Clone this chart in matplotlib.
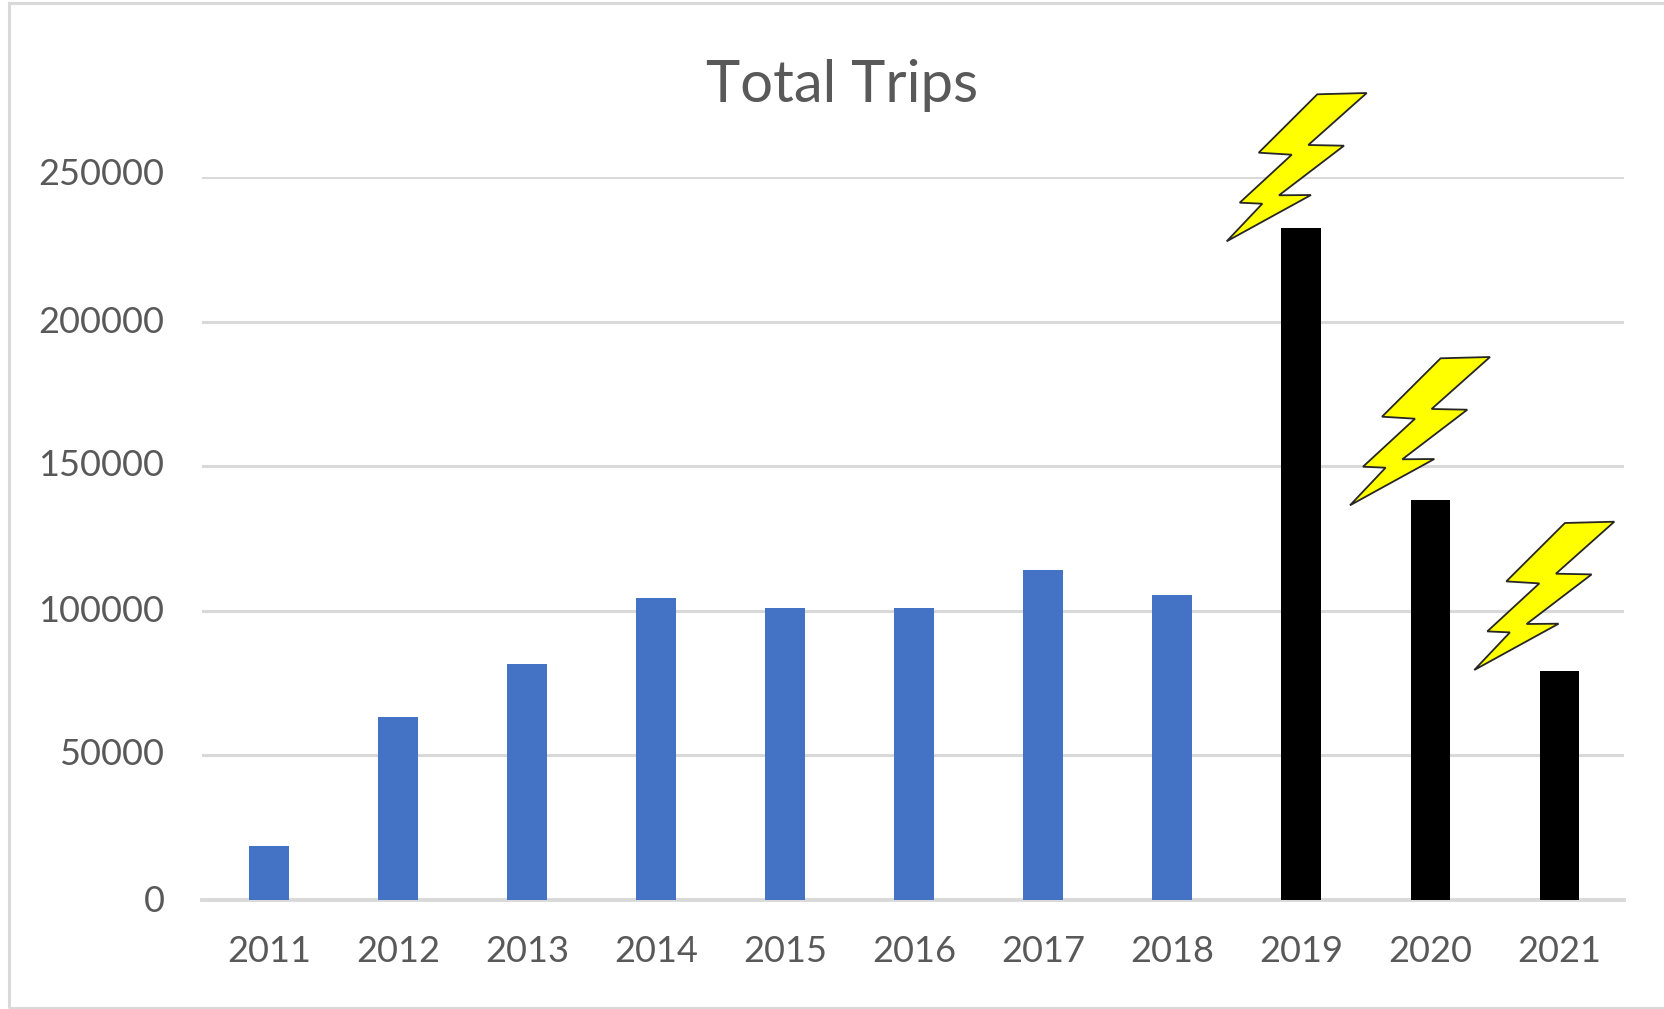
"""Total Trips per year, with lightning bolts over the last three years."""

import matplotlib
matplotlib.use("Agg")
import matplotlib.pyplot as plt
from matplotlib.patches import Polygon, Rectangle
from matplotlib.transforms import ScaledTranslation

matplotlib.rcParams.update({
    "font.family": ["Lato", "DejaVu Sans"],
})

YEARS = ["2011", "2012", "2013", "2014", "2015", "2016", "2017", "2018", "2019", "2020", "2021"]
TRIPS = [18700, 63300, 81600, 104400, 101000, 101000, 114100, 105500, 232400, 138300, 79200]
BAR_COLORS = ["#4472C4"] * 8 + ["#000000"] * 3
Y_TICKS = [0, 50000, 100000, 150000, 200000, 250000]
# labels do not sit quite level with their gridlines (pixels up)
Y_LABEL_NUDGE = [2, 4, 2, 4, 2, 5]

# bolt outline in pixels of the picture, and where the copies sit
BOLT_X = [1317.3, 1366.7, 1308.3, 1344, 1279, 1311, 1226.7, 1262.3, 1239.7, 1291.7, 1258.7]
BOLT_Y = [94.3, 93, 145, 145.7, 195.3, 195, 241.3, 203.7, 202.7, 154.7, 152.7]
BOLT_OFFSETS = [(0, 0), (123.3, 264), (247.6, 428.7)]

W, H = 1665, 1009
TEXT = "#595959"
GRID = "#D9D9D9"

fig = plt.figure(figsize=(W / 100, H / 100), dpi=100, facecolor="white")
ax = fig.add_axes([202 / W, 1 - 900 / H, (1624 - 202) / W, (900 - 177) / H])

x = range(len(YEARS))
ax.bar(x, TRIPS, width=0.31, color=BAR_COLORS, zorder=3)

ax.set_xlim(-0.523, 10.5)
ax.set_ylim(0, 250000)
ax.set_xticks(list(x), YEARS)
ax.set_yticks(Y_TICKS, [str(v) for v in Y_TICKS])
ax.tick_params(length=0, labelsize=26, labelcolor=TEXT)
ax.tick_params(axis="x", pad=25.5)
ax.tick_params(axis="y", pad=27)

for label, nudge in zip(ax.get_yticklabels(), Y_LABEL_NUDGE):
    label.set_transform(label.get_transform() + ScaledTranslation(0, nudge / 100, fig.dpi_scale_trans))

ax.yaxis.grid(True, color=GRID, linewidth=2.2)
ax.set_axisbelow(True)
for name in ["top", "right", "left"]:
    ax.spines[name].set_visible(False)
ax.spines["bottom"].set_color(GRID)
ax.spines["bottom"].set_linewidth(2.8)

fig.text(842 / W, 1 - 86 / H, "Total Trips", fontsize=41.8, color=TEXT, ha="center", va="center")

# the bolts are drawn on the figure, in picture pixels
to_fig = fig.transFigure
for dx, dy in BOLT_OFFSETS:
    pts = [((bx + dx) / W, 1 - (by + dy) / H) for bx, by in zip(BOLT_X, BOLT_Y)]
    fig.add_artist(Polygon(pts, closed=True, facecolor="#FFFF00", edgecolor="#262626",
                           linewidth=1.3, joinstyle="miter", transform=to_fig, zorder=5))

# frame around the picture, open at the right where it runs off the edge
fig.add_artist(Rectangle((9.5 / W, 1 - 1008 / H), (W + 5 - 9.5) / W, 1005.5 / H, fill=False,
                         edgecolor=GRID, linewidth=2.2, transform=to_fig))

fig.savefig("out.png", dpi=100)
